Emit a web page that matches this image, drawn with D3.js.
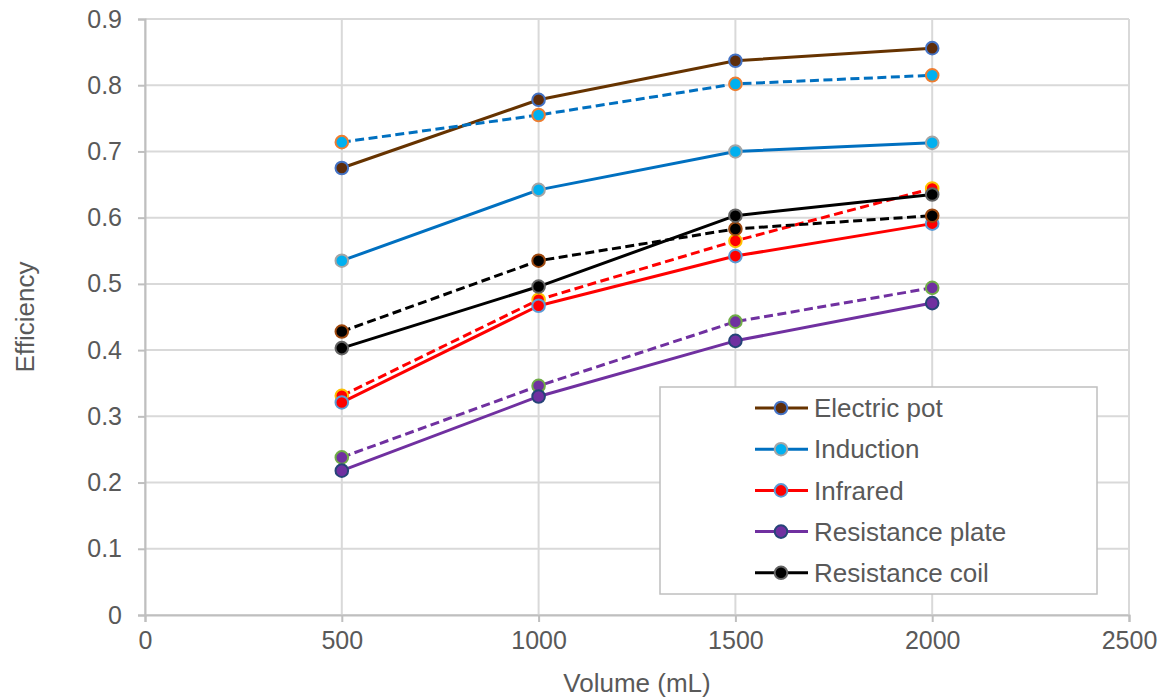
<!DOCTYPE html>
<html>
<head>
<meta charset="utf-8">
<script src="https://cdn.jsdelivr.net/npm/d3@7"></script>
<style>
  html, body { margin: 0; padding: 0; background: #fff; }
  svg { display: block; font-family: "Liberation Sans", Arial, sans-serif; }
</style>
</head>
<body>
<svg id="chart" width="1166" height="700"></svg>
<script>
// Heating volume (mL) on the x axis
const volumes = [500, 1000, 1500, 2000];
const xTicks = [0, 500, 1000, 1500, 2000, 2500];
const yTicks = [0, 0.1, 0.2, 0.3, 0.4, 0.5, 0.6, 0.7, 0.8, 0.9];

// Named appliances (solid lines, shown in the legend)
const seriesNames = ["Electric pot", "Induction", "Infrared", "Resistance plate", "Resistance coil"];
const electricPot     = [0.675, 0.778, 0.837, 0.856];
const induction       = [0.535, 0.642, 0.700, 0.713];
const infrared        = [0.321, 0.467, 0.542, 0.591];
const resistancePlate = [0.218, 0.330, 0.414, 0.471];
const resistanceCoil  = [0.403, 0.496, 0.603, 0.635];

// Second set of measurements (dashed lines, not in the legend)
const dashedBlue   = [0.714, 0.755, 0.802, 0.815];
const dashedRed    = [0.331, 0.476, 0.565, 0.644];
const dashedPurple = [0.238, 0.346, 0.443, 0.494];
const dashedBlack  = [0.428, 0.535, 0.583, 0.603];

// Styles: line colour, marker fill, marker outline
const styles = {
  electricPot:     { line: "#663300", fill: "#5e2d0b", edge: "#4472c4", dash: null },
  induction:       { line: "#0070c0", fill: "#00b0f0", edge: "#a5a5a5", dash: null },
  infrared:        { line: "#ff0000", fill: "#ff0000", edge: "#5b9bd5", dash: null },
  resistancePlate: { line: "#7030a0", fill: "#7030a0", edge: "#264478", dash: null },
  resistanceCoil:  { line: "#000000", fill: "#000000", edge: "#636363", dash: null },
  dashedBlue:      { line: "#0070c0", fill: "#00b0f0", edge: "#ed7d31", dash: "9,4.5" },
  dashedRed:       { line: "#ff0000", fill: "#ff0000", edge: "#ffc000", dash: "9,4.5" },
  dashedPurple:    { line: "#7030a0", fill: "#7030a0", edge: "#70ad47", dash: "9,4.5" },
  dashedBlack:     { line: "#000000", fill: "#000000", edge: "#9e480e", dash: "9,4.5" }
};

// Drawing order (later series sit on top)
const drawList = [
  ["electricPot", electricPot],
  ["dashedBlue", dashedBlue],
  ["induction", induction],
  ["dashedRed", dashedRed],
  ["infrared", infrared],
  ["dashedPurple", dashedPurple],
  ["resistancePlate", resistancePlate],
  ["dashedBlack", dashedBlack],
  ["resistanceCoil", resistanceCoil]
];
const legendKeys = ["electricPot", "induction", "infrared", "resistancePlate", "resistanceCoil"];

const svg = d3.select("#chart");
const margin = { left: 145, right: 37, top: 19, bottom: 85 };
const W = 1166, H = 700;
const x = d3.scaleLinear().domain([0, 2500]).range([margin.left, W - margin.right]);
const y = d3.scaleLinear().domain([0, 0.9]).range([H - margin.bottom, margin.top]);

const gridColor = "#d9d9d9";
const textColor = "#595959";

// Gridlines
const grid = svg.append("g");
grid.selectAll("line.h").data(yTicks).join("line")
  .attr("x1", x(0)).attr("x2", x(2500))
  .attr("y1", d => y(d)).attr("y2", d => y(d))
  .attr("stroke", gridColor).attr("stroke-width", 2);
grid.selectAll("line.v").data(xTicks).join("line")
  .attr("x1", d => x(d)).attr("x2", d => x(d))
  .attr("y1", y(0)).attr("y2", y(0.9))
  .attr("stroke", gridColor).attr("stroke-width", 2);

// Axes
const xAxis = svg.append("g")
  .attr("transform", `translate(0,${y(0)})`)
  .call(d3.axisBottom(x).tickValues(xTicks).tickSize(7).tickPadding(9).tickFormat(d3.format("d")));
const yAxis = svg.append("g")
  .attr("transform", `translate(${x(0)},0)`)
  .call(d3.axisLeft(y).tickValues(yTicks).tickSize(7).tickPadding(16).tickFormat(d => d === 0 ? "0" : d3.format(".1f")(d)));
[xAxis, yAxis].forEach(g => {
  g.select(".domain").attr("stroke", "#bfbfbf").attr("stroke-width", 2);
  g.selectAll(".tick line").attr("stroke", "#bfbfbf").attr("stroke-width", 2);
  g.selectAll(".tick text").attr("fill", textColor).style("font-size", "25px")
    .style("font-family", "'Liberation Sans', Arial, sans-serif");
});

// Axis titles
svg.append("text")
  .attr("x", (x(0) + x(2500)) / 2).attr("y", 692)
  .attr("text-anchor", "middle").attr("fill", textColor)
  .style("font-size", "26px").text("Volume (mL)");
svg.append("text")
  .attr("transform", `translate(34,${(y(0) + y(0.9)) / 2}) rotate(-90)`)
  .attr("text-anchor", "middle").attr("fill", textColor)
  .style("font-size", "26px").text("Efficiency");

// Series
const line = d3.line().x((d, i) => x(volumes[i])).y(d => y(d));
const plot = svg.append("g");
drawList.forEach(([key, values]) => {
  const s = styles[key];
  const g = plot.append("g");
  g.append("path").datum(values)
    .attr("d", line).attr("fill", "none")
    .attr("stroke", s.line).attr("stroke-width", 3)
    .attr("stroke-linejoin", "round")
    .attr("stroke-dasharray", s.dash);
  g.selectAll("circle").data(values).join("circle")
    .attr("cx", (d, i) => x(volumes[i])).attr("cy", d => y(d))
    .attr("r", 6.3).attr("fill", s.fill)
    .attr("stroke", s.edge).attr("stroke-width", 2);
});

// Legend
const legend = svg.append("g");
legend.append("rect")
  .attr("x", 660).attr("y", 387).attr("width", 437).attr("height", 207)
  .attr("fill", "#fff").attr("stroke", "#bfbfbf").attr("stroke-width", 1.5);
legendKeys.forEach((key, i) => {
  const s = styles[key];
  const ly = 408 + i * 41.2;
  legend.append("line")
    .attr("x1", 755).attr("x2", 808).attr("y1", ly).attr("y2", ly)
    .attr("stroke", s.line).attr("stroke-width", 3);
  legend.append("circle")
    .attr("cx", 781).attr("cy", ly).attr("r", 6.3)
    .attr("fill", s.fill).attr("stroke", s.edge).attr("stroke-width", 2);
  legend.append("text")
    .attr("x", 814).attr("y", ly).attr("dy", "0.35em")
    .attr("fill", textColor).style("font-size", "26px")
    .text(seriesNames[i]);
});
</script>
</body>
</html>
